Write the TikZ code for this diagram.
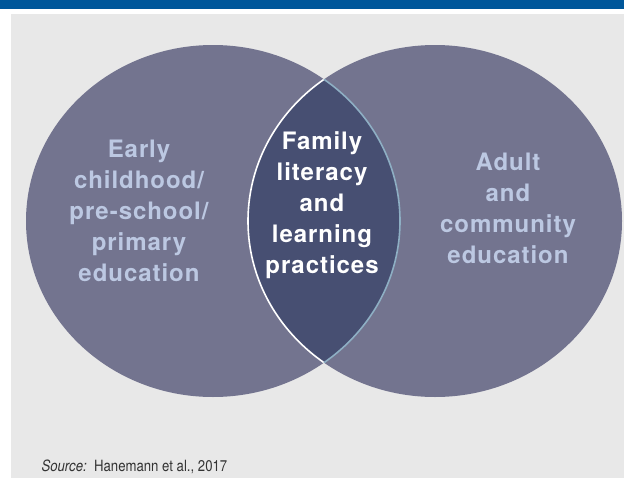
\documentclass[tikz,border=0pt]{standalone}
\usepackage{fontspec}
\setmainfont{TeX Gyre Heros}[LetterSpace=4]
\newfontfamily\sourcefont{TeX Gyre Heros}[FakeStretch=0.85]
\definecolor{barblue}{HTML}{00579A}
\definecolor{panelgrey}{HTML}{E8E8E8}
\definecolor{setfill}{HTML}{73748F}
\definecolor{lensfill}{HTML}{474F72}
\definecolor{sidetext}{HTML}{BCC8E2}
\definecolor{rimblue}{HTML}{8EAFC4}
\tikzset{
	setlabel/.style={align=center, font=\bfseries\fontsize{24}{31}\selectfont},
}
\begin{document}
\begin{tikzpicture}[x=1pt,y=-1pt]
		\useasboundingbox (0,0) rectangle (624,479);
		\fill[barblue] (0,0) rectangle (624,9);
		\fill[panelgrey] (11,14) rectangle (624,478);
		% the two sets
		\coordinate (lc) at (213,221);
		\coordinate (rc) at (435,221);
		\fill[setfill] (lc) ellipse (187 and 176);
		\fill[setfill] (rc) ellipse (187 and 176);
		\begin{scope}
			\clip (lc) ellipse (187 and 176);
			\fill[lensfill] (rc) ellipse (187 and 176);
			\draw[white, line width=1.6pt] (rc) ellipse (187 and 176);
		\end{scope}
		\begin{scope}
			\clip (rc) ellipse (187 and 176);
			\draw[rimblue, line width=1.6pt] (lc) ellipse (187 and 176);
		\end{scope}
		\node[setlabel, text=sidetext] (early) at (139,211) {Early\\childhood/\\pre-school/\\primary\\education};
		\node[setlabel, text=white] (family) at (322,205) {Family\\literacy\\and\\learning\\practices};
		\node[setlabel, text=sidetext] (adult) at (508,208) {Adult\\and\\community\\education};
		\node[anchor=base west, text=black!80, font=\sourcefont\fontsize{15.5}{17}\selectfont] (source) at (38,471) {\textit{Source:}\ \ Hanemann et al., 2017};
\end{tikzpicture}
\end{document}
